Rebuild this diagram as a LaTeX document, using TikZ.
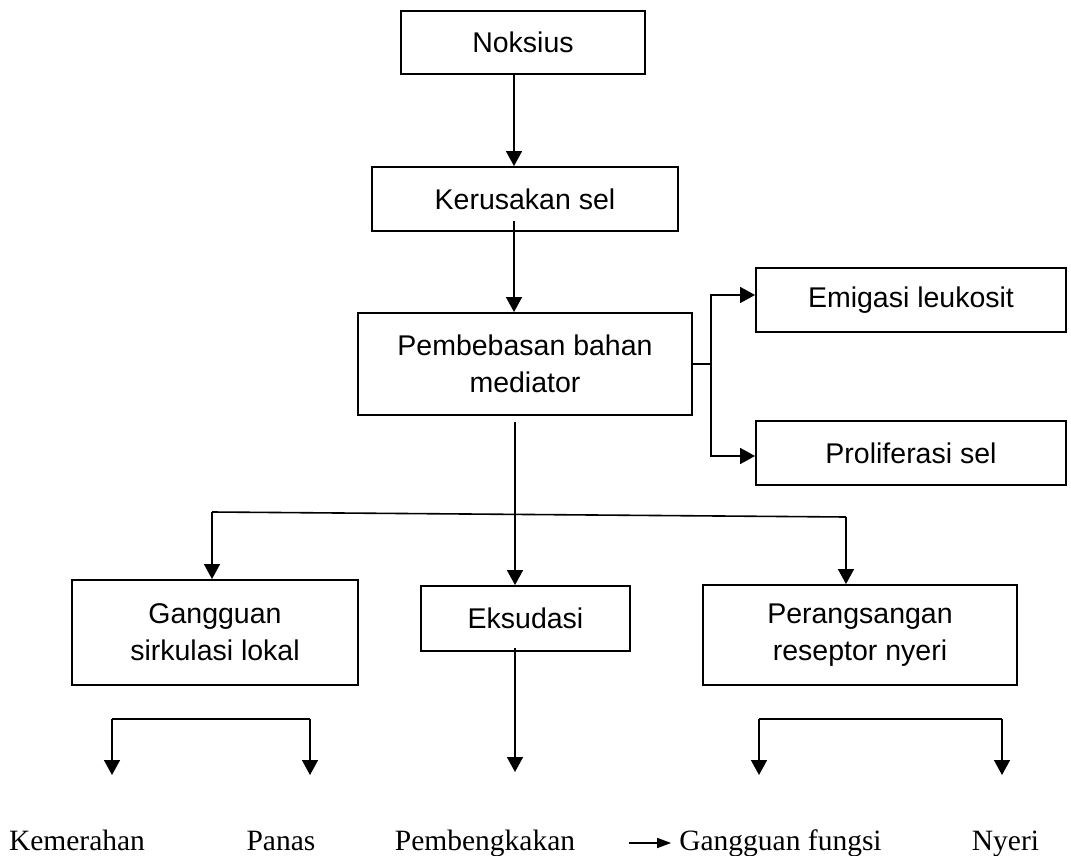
\documentclass[tikz,border=0pt]{standalone}
\usepackage{fontspec}
\setmainfont{Liberation Serif}
\newfontfamily\boxfont{Liberation Sans}
\usetikzlibrary{arrows.meta}
\tikzset{
  box/.style={draw, line width=1.9pt, align=center, inner sep=0pt,
    font=\boxfont\fontsize{28.5}{37}\selectfont},
  lbl/.style={anchor=base, inner sep=0pt, font=\fontsize{29.5}{34}\selectfont},
  conn/.style={line width=1.6pt, -{Triangle[length=15pt,width=16pt]}},
  plain/.style={line width=1.6pt},
  smallarrow/.style={line width=1.6pt, -{Triangle[length=14pt,width=10pt]}}
}
\begin{document}
\begin{tikzpicture}[x=1pt,y=-1pt]
\useasboundingbox (0,0) rectangle (1071,856);
% boxes
\node[box, minimum width=244pt, minimum height=63pt] (nok) at (523,42.5) {Noksius};
\node[box, minimum width=306pt, minimum height=64pt] (ker) at (525,199) {Kerusakan sel};
\node[box, minimum width=334pt, minimum height=102pt] (pem) at (525,364) {Pembebasan bahan\\mediator};
\node[box, minimum width=310pt, minimum height=64pt] (emi) at (911,300) {Emigasi leukosit};
\node[box, minimum width=310pt, minimum height=64pt] (pro) at (911,453) {Proliferasi sel};
\node[box, minimum width=286pt, minimum height=105pt] (gang) at (215,632.5) {Gangguan\\sirkulasi lokal};
\node[box, minimum width=209pt, minimum height=65pt] (eks) at (525.5,618.5) {Eksudasi};
\node[box, minimum width=314pt, minimum height=100pt] (per) at (860,635) {Perangsangan\\reseptor nyeri};
% bottom labels
\node[lbl] (kem) at (77,850) {Kemerahan};
\node[lbl] (pan) at (281,850) {Panas};
\node[lbl] (pbk) at (485,850) {Pembengkakan};
\node[lbl] (gfun) at (780.5,850) {Gangguan fungsi};
\node[lbl] (nye) at (1005.5,850) {Nyeri};
% helper coordinates
\coordinate (spine) at (515,0);
\coordinate (spineA) at (514,0);
\coordinate (br) at (711,364);
\coordinate (hl) at (212,512);
\coordinate (hr) at (846,517);
\coordinate (bl1) at (112,719);
\coordinate (bl2) at (310,719);
\coordinate (tl1) at (112,775);
\coordinate (tl2) at (310,775);
\coordinate (br1) at (759,719);
\coordinate (br2) at (1002,719);
\coordinate (tr1) at (759,775);
\coordinate (tr2) at (1002,775);
\coordinate (te) at (515,772);
\coordinate (a0) at (629,843);
% main spine
\draw[conn] (nok.south -| spineA) -- (ker.north -| spineA);
\draw[conn] ([yshift=11pt]ker.south -| spineA) -- (pem.north -| spineA);
\draw[conn] ([yshift=-6pt]pem.south -| spine) -- (eks.north -| spine);
% right branch
\draw[plain] (pem.east) -- (br);
\draw[conn] (br) |- ([yshift=5pt]emi.west);
\draw[conn] (br) |- ([yshift=-3pt]pro.west);
% slanted distribution line
\draw[plain] (hl) -- (hr);
\draw[conn] (hl) -- (gang.north -| hl);
\draw[conn] (hr) -- (per.north -| hr);
% lower connectors
\draw[conn] ([yshift=4pt]eks.south -| spine) -- (te);
\draw[plain] (bl1) -- (bl2);
\draw[conn] (bl1) -- (tl1);
\draw[conn] (bl2) -- (tl2);
\draw[plain] (br1) -- (br2);
\draw[conn] (br1) -- (tr1);
\draw[conn] (br2) -- (tr2);
\draw[smallarrow, shorten >=8pt] (a0) -- (gfun.west |- a0);
\end{tikzpicture}
\end{document}
